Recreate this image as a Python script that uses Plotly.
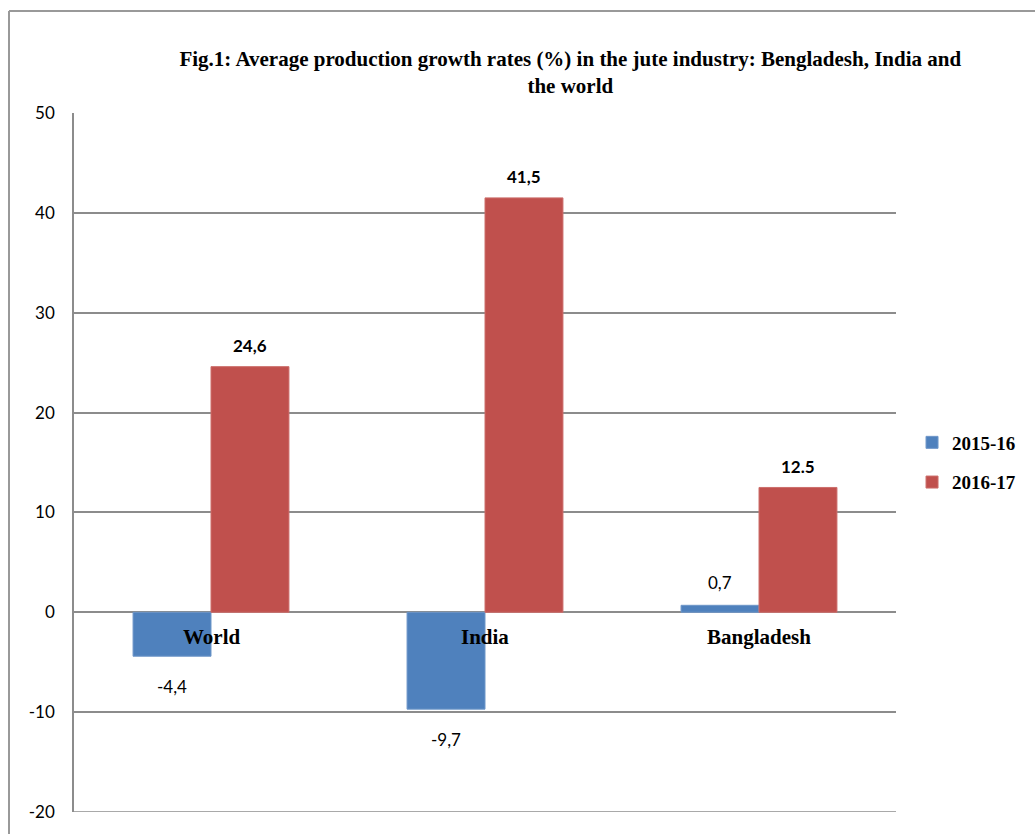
import plotly.graph_objects as go

categories = ["World", "India", "Bangladesh"]
series_names = ["2015-16", "2016-17"]
values_2015 = [-4.4, -9.7, 0.7]
values_2016 = [24.6, 41.5, 12.5]
labels_2015 = ["-4,4", "-9,7", "0,7"]
labels_2016 = ["24,6", "41,5", "12.5"]
y_ticks = [-20, -10, 0, 10, 20, 30, 40, 50]
y_tick_labels = ["-20", "-10", "0", "10", "20", "30", "40", "50"]

BLUE = "#4F81BD"
RED = "#C0504D"
GRID = "#8C8C8C"
SANS = "Lato, 'Open Sans', sans-serif"
SERIF = "'Liberation Serif', 'Times New Roman', serif"

fig = go.Figure()
fig.add_trace(go.Bar(x=categories, y=values_2015, name="<b>" + series_names[0] + "</b>",
                     legendgroup="g1",
                     marker=dict(color=BLUE, line=dict(color="#6f97c9", width=1))))
fig.add_trace(go.Bar(x=categories, y=values_2016, name="<b>" + series_names[1] + "</b>",
                     legendgroup="g2",
                     marker=dict(color=RED, line=dict(color="#cc6e6b", width=1))))

annotations = []
for c, v, t in zip(categories, values_2015, labels_2015):
    annotations.append(dict(x=c, y=v, text=t, showarrow=False, xshift=-39,
                            yshift=(-30 if v < 0 else 23),
                            font=dict(family=SANS, size=17, color="black")))
for c, v, t in zip(categories, values_2016, labels_2016):
    annotations.append(dict(x=c, y=v, text="<b>" + t + "</b>", showarrow=False, xshift=39,
                            yshift=21, font=dict(family=SANS, size=17, color="black")))
for c in categories:
    annotations.append(dict(x=c, y=0, text="<b>" + c + "</b>", showarrow=False, yshift=-25,
                            font=dict(family=SERIF, size=21, color="black")))

fig.update_layout(
    width=1035, height=834,
    margin=dict(l=74, r=139, t=113, b=22, autoexpand=False),
    paper_bgcolor="white", plot_bgcolor="white",
    barmode="group", bargap=0.431, bargroupgap=0,
    title=dict(text="<b>Fig.1: Average production growth rates (%) in the jute industry: Bengladesh, India and<br>the world</b>",
               x=0.551, xref="container", xanchor="center",
               y=1 - 66 / 834, yref="container", yanchor="middle",
               font=dict(family=SERIF, size=21, color="black")),
    xaxis=dict(showticklabels=False, showgrid=False, zeroline=False, showline=False),
    yaxis=dict(range=[-20, 50], tickvals=y_ticks, ticktext=y_tick_labels,
               showgrid=True, gridcolor=GRID, gridwidth=1.5,
               zeroline=True, zerolinecolor=GRID, zerolinewidth=1.5,
               showline=True, linecolor=GRID, linewidth=1.5,
               ticks="", ticklabelstandoff=14,
               tickfont=dict(family=SANS, size=17, color="black")),
    legend=dict(x=1.0195, y=0.5, xanchor="left", yanchor="middle",
                font=dict(family=SERIF, size=19, color="black"),
                itemwidth=30, tracegroupgap=12),
    annotations=annotations,
    showlegend=True,
    shapes=[
        dict(type="line", xref="paper", yref="y", x0=0, x1=1, y0=-20, y1=-20,
             line=dict(color=GRID, width=1.5)),
        dict(type="line", xref="paper", yref="paper", x0=(9 - 74) / 822, x1=(9 - 74) / 822,
             y0=(812 - 11) / 699, y1=(812 - 840) / 699, line=dict(color="#999999", width=2)),
        dict(type="line", xref="paper", yref="paper", x0=(9 - 74) / 822, x1=(1040 - 74) / 822,
             y0=(812 - 11) / 699, y1=(812 - 11) / 699, line=dict(color="#999999", width=2)),
    ],
)

fig.write_html("out.html")
